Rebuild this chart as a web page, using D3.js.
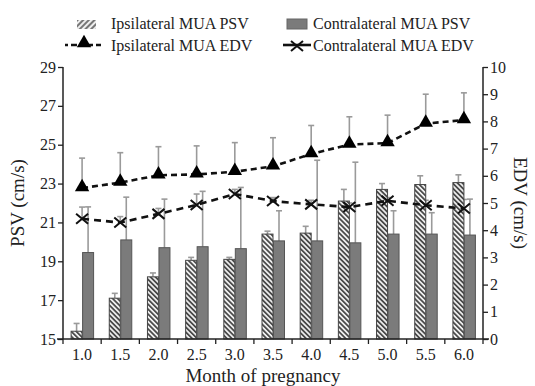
<!DOCTYPE html>
<html>
<head>
<meta charset="utf-8">
<script src="https://cdn.jsdelivr.net/npm/d3@7"></script>
<style>
  body { margin: 0; background: #fff; }
  svg text { font-family: "Liberation Serif", "Times New Roman", serif; fill: #222; }
</style>
</head>
<body>
<div id="chart"></div>
<script>
// data
var months = ["1.0", "1.5", "2.0", "2.5", "3.0", "3.5", "4.0", "4.5", "5.0", "5.5", "6.0"];
var ipsiPSV     = [15.4, 17.1, 18.2, 19.05, 19.1, 20.4, 20.45, 22.1, 22.7, 22.95, 23.05];
var ipsiPSVErr  = [15.8, 17.35, 18.4, 19.2, 19.2, 20.55, 20.8, 22.7, 23.0, 23.4, 23.45];
var contraPSV    = [19.45, 20.1, 19.7, 19.75, 19.65, 20.05, 20.05, 19.95, 20.4, 20.4, 20.35];
var contraPSVErr = [21.8, 22.3, 22.2, 22.6, 22.8, 21.6, 24.2, 24.1, 21.6, 21.5, 22.2];
var ipsiEDV     = [5.55, 5.75, 6.02, 6.05, 6.15, 6.35, 6.8, 7.15, 7.2, 7.92, 8.05];
var ipsiEDVErr  = [6.65, 6.85, 7.07, 7.1, 7.22, 7.4, 7.85, 8.17, 8.23, 9.0, 9.05];
var contraEDV    = [4.42, 4.28, 4.6, 4.93, 5.33, 5.07, 4.95, 4.85, 5.08, 4.92, 4.8];
var contraEDVErr = [4.85, 4.5, 4.8, 5.33, 5.5, 5.2, 5.1, 5.0, 5.2, 5.1, 5.13];
var psvTicks = [15, 17, 19, 21, 23, 25, 27, 29];
var edvTicks = [0, 1, 2, 3, 4, 5, 6, 7, 8, 9, 10];

var margin = {top: 67, right: 52, bottom: 47, left: 63},
    width = 535 - margin.left - margin.right,
    height = 386 - margin.top - margin.bottom;

var serif = "'Liberation Serif', 'Times New Roman', serif";

var svg = d3.select("#chart").append("svg")
    .attr("width", 535)
    .attr("height", 386);

var defs = svg.append("defs");
// hatch for the bars ("\\\")
var hb = defs.append("pattern").attr("id", "hatchBar")
    .attr("patternUnits", "userSpaceOnUse").attr("width", 3.5).attr("height", 3.5)
    .attr("patternTransform", "rotate(-45)");
hb.append("rect").attr("width", 3.5).attr("height", 3.5).attr("fill", "#f2f2f2");
hb.append("rect").attr("width", 1.8).attr("height", 3.5).attr("fill", "#4a4a4a");
// hatch for the legend swatch ("///")
var hl = defs.append("pattern").attr("id", "hatchLeg")
    .attr("patternUnits", "userSpaceOnUse").attr("width", 4).attr("height", 4)
    .attr("patternTransform", "rotate(45)");
hl.append("rect").attr("width", 4).attr("height", 4).attr("fill", "#eee");
hl.append("rect").attr("width", 2).attr("height", 4).attr("fill", "#777");

var g = svg.append("g")
    .attr("transform", "translate(" + margin.left + "," + margin.top + ")");

var x = d3.scaleBand().domain(months).range([0, width]);
var yL = d3.scaleLinear().domain([15, 29]).range([height, 0]);
var yR = d3.scaleLinear().domain([0, 10]).range([height, 0]);
var barW = 11;
var cx = function(d) { return x(d) + x.bandwidth() / 2; };

var errColor = "#9a9a9a";
function errBar(xs, y0, y1) {
    g.append("line").attr("x1", xs).attr("x2", xs).attr("y1", y0).attr("y2", y1)
        .attr("stroke", errColor).attr("stroke-width", 1.6);
    g.append("line").attr("x1", xs - 3).attr("x2", xs + 3).attr("y1", y1).attr("y2", y1)
        .attr("stroke", errColor).attr("stroke-width", 1.6);
}

// error bars of the bars
months.forEach(function(m, i) {
    errBar(cx(m) - barW / 2, yL(ipsiPSV[i]), yL(ipsiPSVErr[i]));
    errBar(cx(m) + barW / 2 + 0.5, yL(contraPSV[i]), yL(contraPSVErr[i]));
    errBar(cx(m), yR(ipsiEDV[i]), yR(ipsiEDVErr[i]));
    errBar(cx(m), yR(contraEDV[i]), yR(contraEDVErr[i]));
});

// bars
g.selectAll(".ipsi").data(months).enter().append("rect")
    .attr("x", function(d) { return cx(d) - barW; })
    .attr("y", function(d, i) { return yL(ipsiPSV[i]); })
    .attr("width", barW)
    .attr("height", function(d, i) { return height - yL(ipsiPSV[i]); })
    .attr("fill", "url(#hatchBar)")
    .attr("stroke", "#444").attr("stroke-width", 1);

g.selectAll(".contra").data(months).enter().append("rect")
    .attr("x", function(d) { return cx(d) + 0.5; })
    .attr("y", function(d, i) { return yL(contraPSV[i]); })
    .attr("width", barW)
    .attr("height", function(d, i) { return height - yL(contraPSV[i]); })
    .attr("fill", "#7b7b7b")
    .attr("stroke", "#555").attr("stroke-width", 1);

// EDV lines
var line = d3.line().x(function(d) { return cx(d.m); }).y(function(d) { return yR(d.v); });
var ipsiPts = months.map(function(m, i) { return {m: m, v: ipsiEDV[i]}; });
var contraPts = months.map(function(m, i) { return {m: m, v: contraEDV[i]}; });

g.append("path").datum(contraPts).attr("d", line)
    .attr("fill", "none").attr("stroke", "#111").attr("stroke-width", 2.6)
    .attr("stroke-dasharray", "7,5");
g.append("path").datum(ipsiPts).attr("d", line)
    .attr("fill", "none").attr("stroke", "#111").attr("stroke-width", 2.6)
    .attr("stroke-dasharray", "6,4");

var tri = d3.symbol().type(d3.symbolTriangle).size(90);
g.selectAll(".tri").data(ipsiPts).enter().append("path")
    .attr("d", tri)
    .attr("transform", function(d) { return "translate(" + cx(d.m) + "," + (yR(d.v) - 1) + ")"; })
    .attr("fill", "#000");

g.selectAll(".cross").data(contraPts).enter().append("path")
    .attr("d", "M-6,-5L6,5M-6,5L6,-5")
    .attr("transform", function(d) { return "translate(" + cx(d.m) + "," + yR(d.v) + ")"; })
    .attr("stroke", "#111").attr("stroke-width", 2).attr("fill", "none");

// axes
var axL = g.append("g").call(d3.axisLeft(yL).tickValues(psvTicks).tickSize(5).tickPadding(2));
var axR = g.append("g").attr("transform", "translate(" + width + ",0)")
    .call(d3.axisRight(yR).tickValues(edvTicks).tickSize(5).tickPadding(2));
[axL, axR].forEach(function(a) {
    a.attr("font-family", serif).attr("font-size", 16);
    a.select(".domain").attr("stroke", "#222").attr("stroke-width", 1.5);
    a.selectAll(".tick line").attr("stroke", "#222").attr("stroke-width", 1.3);
    a.selectAll("text").attr("fill", "#222");
});
axL.select(".domain").attr("d", "M0,0V" + height);
axR.select(".domain").attr("d", "M0,0V" + height);

// bottom axis: labels at centres, tick marks at band edges
var axB = g.append("g").attr("transform", "translate(0," + height + ")");
axB.append("line").attr("x1", -6).attr("x2", width + 6)
    .attr("stroke", "#222").attr("stroke-width", 1.5);
var edges = months.map(function(m) { return x(m); }).concat([width]);
axB.selectAll(".edge").data(edges).enter().append("line")
    .attr("x1", function(d) { return d; }).attr("x2", function(d) { return d; })
    .attr("y1", 0).attr("y2", 5)
    .attr("stroke", "#222").attr("stroke-width", 1.3);
axB.selectAll(".lab").data(months).enter().append("text")
    .attr("x", function(d) { return cx(d); }).attr("y", 21)
    .attr("text-anchor", "middle").style("font-size", "16px")
    .text(function(d) { return d; });

// axis titles
svg.append("text").attr("x", margin.left + width / 2 - 10).attr("y", 382)
    .attr("text-anchor", "middle").style("font-size", "19px").text("Month of pregnancy");
svg.append("text").attr("transform", "translate(24," + (margin.top + height / 2) + ") rotate(-90)")
    .attr("text-anchor", "middle").style("font-size", "19px").text("PSV (cm/s)");
svg.append("text").attr("transform", "translate(514," + (margin.top + height / 2) + ") rotate(90)")
    .attr("text-anchor", "middle").style("font-size", "19px").text("EDV (cm/s)");

// legend
var leg = svg.append("g").style("font-size", "16px");
leg.append("rect").attr("x", 77).attr("y", 20).attr("width", 19).attr("height", 9)
    .attr("fill", "url(#hatchLeg)");
leg.append("text").attr("x", 111).attr("y", 29).text("Ipsilateral MUA PSV");
leg.append("rect").attr("x", 287).attr("y", 19).attr("width", 20).attr("height", 10)
    .attr("fill", "#7b7b7b").attr("stroke", "#666");
leg.append("text").attr("x", 313).attr("y", 29).text("Contralateral MUA PSV");

leg.append("line").attr("x1", 65).attr("x2", 101).attr("y1", 45).attr("y2", 45)
    .attr("stroke", "#111").attr("stroke-width", 2.6).attr("stroke-dasharray", "3,3,6,3,13,3,6");
leg.append("path").attr("d", tri).attr("transform", "translate(84,43)").attr("fill", "#000");
leg.append("text").attr("x", 111).attr("y", 51).text("Ipsilateral MUA EDV");
leg.append("line").attr("x1", 283).attr("x2", 311).attr("y1", 45).attr("y2", 45)
    .attr("stroke", "#111").attr("stroke-width", 2.6);
leg.append("path").attr("d", "M-6,-5L6,5M-6,5L6,-5").attr("transform", "translate(297,46)")
    .attr("stroke", "#111").attr("stroke-width", 2).attr("fill", "none");
leg.append("text").attr("x", 313).attr("y", 51).text("Contralateral MUA EDV");
</script>
</body>
</html>
